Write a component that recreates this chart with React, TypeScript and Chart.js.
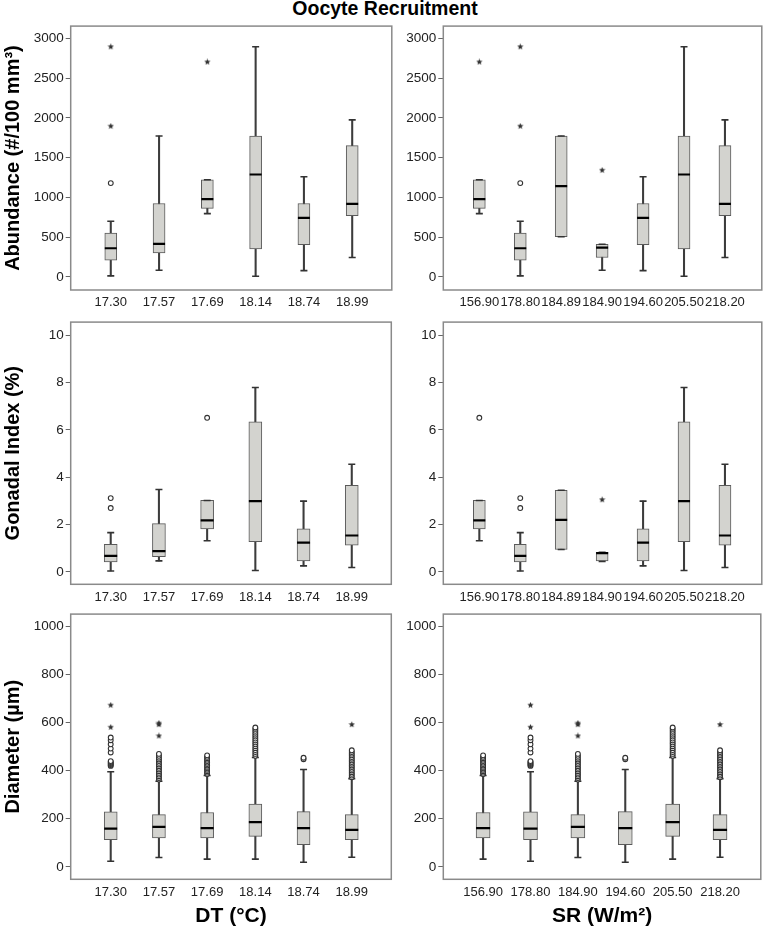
import React, { useEffect, useRef } from 'react';
import { Chart, registerables } from 'chart.js';

Chart.register(...registerables);

const FONT = "'Liberation Sans', Arial, Helvetica, sans-serif";

// ---------- categories ----------
const dtLabels = ['17.30', '17.57', '17.69', '18.14', '18.74', '18.99'];
const srLabels = ['156.90', '178.80', '184.89', '184.90', '194.60', '205.50', '218.20'];
const srDiameterLabels = ['156.90', '178.80', '184.90', '194.60', '205.50', '218.20'];

// ---------- tick values ----------
const abundanceTicks = [0, 500, 1000, 1500, 2000, 2500, 3000];
const gonadalTicks = [0, 2, 4, 6, 8, 10];
const diameterTicks = [0, 200, 400, 600, 800, 1000];

// ---------- box statistics: [min, q1, median, q3, max] ----------
const abundanceDT = [
  [12, 211, 360, 550, 699],
  [83, 302, 414, 923, 1771],
  [795, 861, 977, 1221, 1221],
  [8, 352, 1287, 1771, 2893],
  [79, 406, 741, 923, 1258],
  [244, 770, 919, 1651, 1974],
];
const abundanceDTOutliers = [[1179], [], [], [], [], []];
const abundanceDTExtremes = [[1895, 2893], [], [2702], [], [], []];

const abundanceSR = [
  [795, 861, 977, 1221, 1221],
  [12, 211, 360, 550, 699],
  [505, 505, 1142, 1771, 1771],
  [83, 244, 368, 410, 410],
  [79, 406, 741, 923, 1258],
  [8, 352, 1287, 1771, 2893],
  [244, 770, 919, 1651, 1974],
];
const abundanceSROutliers = [[], [1179], [], [], [], [], []];
const abundanceSRExtremes = [[2702], [1895, 2893], [], [1341], [], [], []];

const gonadalDT = [
  [0.04, 0.43, 0.68, 1.17, 1.66],
  [0.47, 0.65, 0.88, 2.04, 3.48],
  [1.32, 1.82, 2.18, 3.02, 3.02],
  [0.06, 1.28, 2.99, 6.34, 7.79],
  [0.26, 0.47, 1.24, 1.82, 2.99],
  [0.19, 1.13, 1.54, 3.66, 4.55],
];
const gonadalDTOutliers = [[2.7, 3.12], [], [6.51], [], [], []];
const gonadalDTExtremes = [[], [], [], [], [], []];

const gonadalSR = [
  [1.32, 1.82, 2.18, 3.02, 3.02],
  [0.04, 0.43, 0.68, 1.17, 1.66],
  [0.95, 0.95, 2.2, 3.45, 3.45],
  [0.44, 0.47, 0.8, 0.83, 0.83],
  [0.26, 0.47, 1.24, 1.82, 2.99],
  [0.06, 1.28, 2.99, 6.34, 7.79],
  [0.19, 1.13, 1.54, 3.66, 4.55],
];
const gonadalSROutliers = [[6.51], [2.7, 3.12], [], [], [], [], []];
const gonadalSRExtremes = [[], [], [], [3.05], [], [], []];

const diameterDT = [
  [23, 113, 159, 229, 396],
  [39, 120, 166, 217, 356],
  [32, 120, 161, 226, 380],
  [32, 127, 186, 261, 455],
  [19, 92, 161, 230, 405],
  [40, 113, 154, 217, 367],
];
const diameterDTOutliers = [
  [420, 424, 428, 432, 436, 440, 476, 492, 510, 527, 538],
  [363, 370, 377, 384, 391, 398, 405, 412, 419, 426, 433, 440, 447, 454, 462, 470],
  [386, 392, 398, 404, 410, 416, 422, 428, 434, 440, 446, 452, 458, 464],
  [462, 470, 478, 486, 494, 502, 510, 518, 526, 534, 542, 550, 558, 566, 574, 580],
  [448, 454],
  [373, 380, 387, 394, 401, 408, 415, 422, 429, 436, 443, 450, 457, 464, 471, 478, 485],
];
const diameterDTExtremes = [[581, 673], [545, 592, 598], [], [], [], [592]];

const diameterSR = [
  [32, 120, 161, 226, 380],
  [23, 113, 159, 229, 396],
  [39, 120, 166, 217, 356],
  [19, 92, 161, 230, 405],
  [32, 127, 186, 261, 455],
  [40, 113, 154, 217, 367],
];
const diameterSROutliers = [
  [386, 392, 398, 404, 410, 416, 422, 428, 434, 440, 446, 452, 458, 464],
  [420, 424, 428, 432, 436, 440, 476, 492, 510, 527, 538],
  [363, 370, 377, 384, 391, 398, 405, 412, 419, 426, 433, 440, 447, 454, 462, 470],
  [448, 454],
  [462, 470, 478, 486, 494, 502, 510, 518, 526, 534, 542, 550, 558, 566, 574, 580],
  [373, 380, 387, 394, 401, 408, 415, 422, 429, 436, 443, 450, 457, 464, 471, 478, 485],
];
const diameterSRExtremes = [[], [581, 673], [545, 592, 598], [], [], [592]];

// ---------- helpers ----------
function makeStar(size: number, color: string): HTMLCanvasElement {
  const c = document.createElement('canvas');
  c.width = size;
  c.height = size;
  const ctx = c.getContext('2d')!;
  ctx.fillStyle = color;
  ctx.beginPath();
  const cx = size / 2;
  const cy = size / 2;
  const R = size / 2 - 0.2;
  const r = R * 0.45;
  for (let k = 0; k < 10; k++) {
    const a = -Math.PI / 2 + (k * Math.PI) / 5;
    const rad = k % 2 === 0 ? R : r;
    ctx.lineTo(cx + rad * Math.cos(a), cy + rad * Math.sin(a));
  }
  ctx.closePath();
  ctx.fill();
  return c;
}

const framePlugin = {
  id: 'frame',
  afterDraw(chart: any) {
    const { ctx, chartArea } = chart;
    const { left, top, right, bottom } = chartArea;
    ctx.save();
    ctx.strokeStyle = '#8a8a8a';
    ctx.lineWidth = 1.5;
    ctx.strokeRect(left, top, right - left, bottom - top);
    ctx.restore();
  },
};

type Frame = { l: number; t: number; r: number; b: number };

type PanelProps = {
  labels: string[];
  stats: number[][];
  outliers: number[][];
  extremes: number[][];
  yTicks: number[];
  yMin: number;
  yMax: number;
  xMin: number;
  xMax: number;
  left: number;
  top: number;
  width: number;
  height: number;
  frame: Frame;
  boxWidth: number;
  yTitle?: string;
  xTitle?: string;
};

function BoxPanel(p: PanelProps) {
  const ref = useRef<HTMLCanvasElement | null>(null);

  useEffect(() => {
    if (!ref.current) return;
    const star = makeStar(7, '#333');
    const yAxisWidth = p.frame.l - p.left;
    const xAxisHeight = p.top + p.height - p.frame.b;
    const padTop = p.frame.t - p.top;
    const padRight = p.left + p.width - p.frame.r;

    const whiskerData = p.stats.map((s, i) => ({ x: i, y: [s[0], s[4]] }));
    const boxData = p.stats.map((s, i) => ({ x: i, y: [s[1], s[3]] }));
    const capData: { x: number; y: number }[] = [];
    p.stats.forEach((s, i) => {
      capData.push({ x: i, y: s[0] });
      capData.push({ x: i, y: s[4] });
    });
    const medianData = p.stats.map((s, i) => ({ x: i, y: s[2] }));
    const outlierData: { x: number; y: number }[] = [];
    p.outliers.forEach((arr, i) => arr.forEach((v) => outlierData.push({ x: i, y: v })));
    const extremeData: { x: number; y: number }[] = [];
    p.extremes.forEach((arr, i) => arr.forEach((v) => extremeData.push({ x: i, y: v })));

    const chart = new Chart(ref.current, {
      type: 'bar',
      data: {
        datasets: [
          {
            type: 'bar',
            data: whiskerData as any,
            backgroundColor: '#3c3c3c',
            borderWidth: 0,
            barThickness: 1.4,
            grouped: false,
            order: 6,
          } as any,
          {
            type: 'bar',
            data: boxData as any,
            backgroundColor: '#d3d3cf',
            borderColor: '#5a5a5a',
            borderWidth: 1,
            borderSkipped: false,
            barThickness: p.boxWidth,
            grouped: false,
            order: 5,
          } as any,
          {
            type: 'scatter',
            data: capData,
            pointStyle: 'line',
            radius: 3.5,
            borderWidth: 1.6,
            borderColor: '#333',
            order: 4,
          } as any,
          {
            type: 'scatter',
            data: medianData,
            pointStyle: 'line',
            radius: p.boxWidth / 2,
            borderWidth: 2.2,
            borderColor: '#000',
            order: 3,
          } as any,
          {
            type: 'scatter',
            data: outlierData,
            pointStyle: 'circle',
            radius: 2.4,
            borderWidth: 1.1,
            borderColor: '#333',
            backgroundColor: '#fff',
            order: 2,
          } as any,
          {
            type: 'scatter',
            data: extremeData,
            pointStyle: star,
            radius: 3.5,
            order: 1,
          } as any,
        ],
      },
      options: {
        animation: false,
        responsive: false,
        devicePixelRatio: 1,
        events: [],
        layout: { padding: { top: padTop, right: padRight, left: 0, bottom: 0 } },
        plugins: { legend: { display: false }, tooltip: { enabled: false }, title: { display: false } },
        scales: {
          x: {
            type: 'linear',
            min: p.xMin,
            max: p.xMax,
            offset: false,
            grid: { display: false, drawTicks: false },
            border: { display: false },
            afterBuildTicks: (axis: any) => {
              axis.ticks = p.labels.map((_, i) => ({ value: i }));
            },
            afterFit: (axis: any) => {
              axis.height = xAxisHeight;
            },
            ticks: {
              autoSkip: false,
              maxRotation: 0,
              padding: 5,
              color: '#222',
              font: { family: FONT, size: 13 },
              callback: (v: any) => p.labels[Math.round(Number(v))] ?? '',
            },
            title: p.xTitle
              ? {
                  display: true,
                  text: p.xTitle,
                  color: '#000',
                  font: { family: FONT, size: 21, weight: 'bold' },
                  padding: { top: 0, bottom: 0 },
                }
              : { display: false },
          },
          y: {
            type: 'linear',
            min: p.yMin,
            max: p.yMax,
            grid: { display: true, drawOnChartArea: false, drawTicks: true, tickLength: 5, color: '#666' },
            border: { display: false },
            afterBuildTicks: (axis: any) => {
              axis.ticks = p.yTicks.map((v) => ({ value: v }));
            },
            afterFit: (axis: any) => {
              axis.width = yAxisWidth;
            },
            ticks: {
              padding: 2,
              color: '#222',
              font: { family: FONT, size: 13.5 },
              callback: (v: any) => String(v),
            },
            title: p.yTitle
              ? {
                  display: true,
                  text: p.yTitle,
                  color: '#000',
                  font: { family: FONT, size: 20, weight: 'bold' },
                  padding: { top: 1.5, bottom: 0 },
                }
              : { display: false },
          },
        },
      } as any,
      plugins: [framePlugin],
    });
    return () => chart.destroy();
  }, []);

  return (
    <canvas
      ref={ref}
      width={p.width}
      height={p.height}
      style={{ position: 'absolute', left: p.left, top: p.top, width: p.width, height: p.height }}
    />
  );
}

const ROW1 = { top: 16, height: 296 };
const ROW2 = { top: 312, height: 292 };
const ROW3 = { top: 604, height: 325 };
const COL_L = { left: 0, width: 400 };
const COL_R = { left: 400, width: 370 };

export default function App() {
  return (
    <div style={{ position: 'absolute', left: 0, top: 0, width: 770, height: 929, background: '#fff', overflow: 'hidden' }}>
      <div
        style={{
          position: 'absolute',
          left: 0,
          top: -2,
          width: 770,
          textAlign: 'center',
          fontFamily: FONT,
          fontWeight: 'bold',
          fontSize: 19.5,
          lineHeight: '20px',
          color: '#000',
        }}
      >
        Oocyte Recruitment
      </div>

      <BoxPanel
        labels={dtLabels}
        stats={abundanceDT}
        outliers={abundanceDTOutliers}
        extremes={abundanceDTExtremes}
        yTicks={abundanceTicks}
        yMin={-165}
        yMax={3153}
        xMin={-0.83}
        xMax={5.82}
        {...ROW1}
        {...COL_L}
        frame={{ l: 70.7, t: 22.7, r: 395, b: 290 }}
        boxWidth={12}
        yTitle="Abundance (#/100 mm³)"
      />
      <BoxPanel
        labels={srLabels}
        stats={abundanceSR}
        outliers={abundanceSROutliers}
        extremes={abundanceSRExtremes}
        yTicks={abundanceTicks}
        yMin={-165}
        yMax={3153}
        xMin={-0.88}
        xMax={6.9}
        {...ROW1}
        {...COL_R}
        frame={{ l: 443.3, t: 22.7, r: 769.3, b: 290 }}
        boxWidth={12}
      />

      <BoxPanel
        labels={dtLabels}
        stats={gonadalDT}
        outliers={gonadalDTOutliers}
        extremes={gonadalDTExtremes}
        yTicks={gonadalTicks}
        yMin={-0.52}
        yMax={10.55}
        xMin={-0.83}
        xMax={5.82}
        {...ROW2}
        {...COL_L}
        frame={{ l: 70.7, t: 316.7, r: 395, b: 584.3 }}
        boxWidth={13}
        yTitle="Gonadal Index (%)"
      />
      <BoxPanel
        labels={srLabels}
        stats={gonadalSR}
        outliers={gonadalSROutliers}
        extremes={gonadalSRExtremes}
        yTicks={gonadalTicks}
        yMin={-0.52}
        yMax={10.55}
        xMin={-0.88}
        xMax={6.9}
        {...ROW2}
        {...COL_R}
        frame={{ l: 443.3, t: 316.7, r: 769.3, b: 584.3 }}
        boxWidth={12}
      />

      <BoxPanel
        labels={dtLabels}
        stats={diameterDT}
        outliers={diameterDTOutliers}
        extremes={diameterDTExtremes}
        yTicks={diameterTicks}
        yMin={-52}
        yMax={1052}
        xMin={-0.83}
        xMax={5.82}
        {...ROW3}
        {...COL_L}
        frame={{ l: 70.7, t: 612.3, r: 395, b: 879.3 }}
        boxWidth={13}
        yTitle="Diameter (µm)"
        xTitle="DT (°C)"
      />
      <BoxPanel
        labels={srDiameterLabels}
        stats={diameterSR}
        outliers={diameterSROutliers}
        extremes={diameterSRExtremes}
        yTicks={diameterTicks}
        yMin={-52}
        yMax={1052}
        xMin={-0.84}
        xMax={5.86}
        {...ROW3}
        {...COL_R}
        frame={{ l: 443.3, t: 612.3, r: 769.3, b: 879.3 }}
        boxWidth={14}
        xTitle="SR (W/m²)"
      />
    </div>
  );
}
